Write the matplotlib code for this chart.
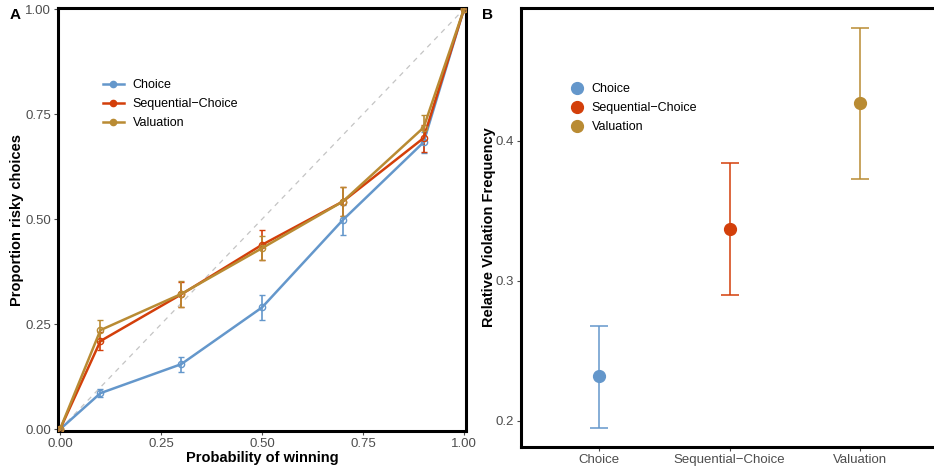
import matplotlib
matplotlib.use("Agg")
import matplotlib.pyplot as plt
from matplotlib.lines import Line2D
import numpy as np

plt.rcParams['font.family'] = ['Liberation Sans', 'DejaVu Sans']

# ---- Data panel A ----
prob = [0.0, 0.1, 0.3, 0.5, 0.7, 0.9, 1.0]
choice_mean = [0.0, 0.086, 0.155, 0.290, 0.498, 0.683, 1.0]
choice_err = [0.0, 0.009, 0.018, 0.030, 0.035, 0.025, 0.0]
seq_mean = [0.0, 0.210, 0.321, 0.439, 0.542, 0.693, 1.0]
seq_err = [0.0, 0.021, 0.030, 0.035, 0.035, 0.032, 0.0]
val_mean = [0.0, 0.236, 0.322, 0.431, 0.542, 0.718, 1.0]
val_err = [0.0, 0.025, 0.030, 0.028, 0.034, 0.029, 0.0]

# ---- Data panel B ----
conditions = ["Choice", "Sequential\u2212Choice", "Valuation"]
viol_mean = [0.232, 0.337, 0.427]
viol_low = [0.195, 0.290, 0.373]
viol_high = [0.268, 0.384, 0.481]

colors = ["#6497CB", "#D33F0A", "#B98B33"]
labels = ["Choice", "Sequential\u2212Choice", "Valuation"]

fig = plt.figure(figsize=(9.34, 4.70), dpi=100)
W, H = 934, 470

def ax_at(l, t, r, b):
    return fig.add_axes([l / W, 1 - b / H, (r - l) / W, (b - t) / H])

tick_col = "#4D4D4D"

def style(ax):
    for s in ax.spines.values():
        s.set_linewidth(2.2)
        s.set_color("black")
    ax.tick_params(axis='both', colors=tick_col, labelcolor=tick_col,
                   labelsize=9.5, length=3, width=0.8, pad=2)

# Panel A
axA = ax_at(58, 8, 466, 431)
axA.plot([0, 1], [0, 1], ls=(0, (4, 4)), color="#C4C4C4", lw=0.9, zorder=1)
for m, e, c in [(choice_mean, choice_err, colors[0]),
                (seq_mean, seq_err, colors[1]),
                (val_mean, val_err, colors[2])]:
    axA.errorbar(prob, m, yerr=e, color=c, lw=1.8, elinewidth=1.2, capsize=2,
                 capthick=1.2, marker='o', markersize=4.5, mfc='none', mew=1.0,
                 zorder=3)
axA.set_xlim(-0.005, 1.005)
axA.set_ylim(-0.004, 1.0025)
axA.set_xticks([0, 0.25, 0.5, 0.75, 1.0])
axA.set_xticklabels(["0.00", "0.25", "0.50", "0.75", "1.00"])
axA.set_yticks([0, 0.25, 0.5, 0.75, 1.0])
axA.set_yticklabels(["0.00", "0.25", "0.50", "0.75", "1.00"])
style(axA)
axA.set_xlabel("Probability of winning", fontsize=10.5, fontweight='bold', labelpad=1)
axA.set_ylabel("Proportion risky choices", fontsize=10.5, fontweight='bold', labelpad=1)
handlesA = [Line2D([], [], color=c, lw=1.8, marker='o', markersize=4.5,
                   mfc=c, mew=1.0) for c in colors]
axA.legend(handlesA, labels, loc='upper left', bbox_to_anchor=(0.097, 0.843),
           frameon=False, fontsize=9, handlelength=1.7, handletextpad=0.7,
           labelspacing=0.55, borderaxespad=0.0)

# Panel B
axB = ax_at(521, 8, 938, 447)
xpos = np.arange(1, len(conditions) + 1)
for i in range(len(conditions)):
    lo = viol_mean[i] - viol_low[i]
    hi = viol_high[i] - viol_mean[i]
    axB.errorbar([xpos[i]], [viol_mean[i]], yerr=[[lo], [hi]], color=colors[i],
                 elinewidth=1.1, capsize=6.5, capthick=1.1, marker='o',
                 markersize=8.5, ls='none', zorder=3)
axB.set_xlim(0.4, 3.6)
axB.set_ylim(0.1814, 0.495)
axB.set_xticks(xpos)
axB.set_xticklabels(conditions)
axB.set_yticks([0.2, 0.3, 0.4])
axB.set_yticklabels(["0.2", "0.3", "0.4"])
style(axB)
axB.set_ylabel("Relative Violation Frequency", fontsize=10.5, fontweight='bold', labelpad=0)
handlesB = [Line2D([], [], color=c, ls='none', marker='o', markersize=8.5)
            for c in colors]
axB.legend(handlesB, labels, loc='upper left', bbox_to_anchor=(0.107, 0.840),
           frameon=False, fontsize=9, handlelength=1.0, handletextpad=0.7,
           labelspacing=0.55, borderaxespad=0.0)

fig.text(15 / W, 1 - 15 / H, "A", fontsize=11, fontweight='bold', ha='center', va='center')
fig.text(487 / W, 1 - 15 / H, "B", fontsize=11, fontweight='bold', ha='center', va='center')

fig.savefig("out.png", dpi=100)
